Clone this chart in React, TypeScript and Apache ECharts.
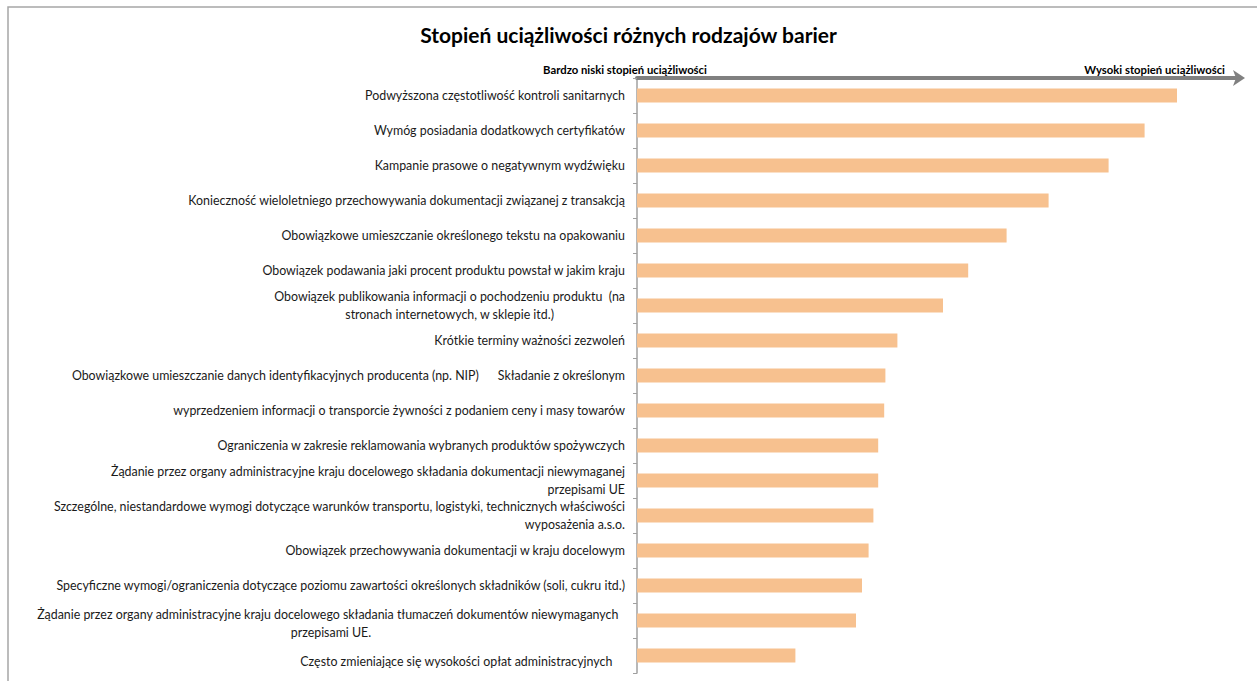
import React, { useEffect, useRef } from "react";
import * as echarts from "echarts";

const titleText = "Stopień uciążliwości różnych rodzajów barier";
const lowLabel = "Bardzo niski stopień uciążliwości";
const highLabel = "Wysoki stopień uciążliwości";

const categories: string[] = [
  "Podwyższona częstotliwość kontroli sanitarnych",
  "Wymóg posiadania dodatkowych certyfikatów",
  "Kampanie prasowe o negatywnym wydźwięku",
  "Konieczność wieloletniego przechowywania dokumentacji związanej z transakcją",
  "Obowiązkowe umieszczanie określonego tekstu na opakowaniu",
  "Obowiązek podawania jaki procent produktu powstał w jakim kraju",
  "Obowiązek publikowania informacji o pochodzeniu produktu  (na\nstronach internetowych, w sklepie itd.)",
  "Krótkie terminy ważności zezwoleń",
  "Obowiązkowe umieszczanie danych identyfikacyjnych producenta (np. NIP)      Składanie z określonym",
  "wyprzedzeniem informacji o transporcie żywności z podaniem ceny i masy towarów",
  "Ograniczenia w zakresie reklamowania wybranych produktów spożywczych",
  "Żądanie przez organy administracyjne kraju docelowego składania dokumentacji niewymaganej\nprzepisami UE",
  "Szczególne, niestandardowe wymogi dotyczące warunków transportu, logistyki, technicznych właściwości\nwyposażenia a.s.o.",
  "Obowiązek przechowywania dokumentacji w kraju docelowym",
  "Specyficzne wymogi/ograniczenia dotyczące poziomu zawartości określonych składników (soli, cukru itd.)",
  "Żądanie przez organy administracyjne kraju docelowego składania tłumaczeń dokumentów niewymaganych  \nprzepisami UE.",
  "Często zmieniające się wysokości opłat administracyjnych    ",
];

const values: number[] = [
  4.5, 4.23, 3.93, 3.43, 3.08, 2.76, 2.55, 2.17, 2.07, 2.06, 2.01, 2.01, 1.97,
  1.93, 1.875, 1.825, 1.32,
];

// indices of labels whose lines are centred (Excel wrapping)
const centredLabels: number[] = [6, 15];
// indices of labels drawn a little lower than the band centre
const loweredLabels: number[] = [15, 16];

const FONT = "Lato, 'Open Sans', sans-serif";

export default function App() {
  const ref = useRef<HTMLDivElement>(null);

  useEffect(() => {
    document.body.style.margin = "0";
    if (!ref.current) return;
    const chart = echarts.init(ref.current, undefined, { renderer: "svg" });
    const labelStyle = {
      fontFamily: FONT,
      fontSize: 12.4,
      color: "#1a1a1a",
      lineHeight: 18,
    };
    chart.setOption({
      animation: false,
      backgroundColor: "#ffffff",
      title: {
        text: titleText,
        left: "center",
        top: 19,
        textStyle: {
          fontFamily: FONT,
          fontWeight: "bold",
          fontSize: 21,
          color: "#000000",
        },
      },
      grid: {
        left: 637,
        right: 20,
        top: 78,
        bottom: 8,
        outerBoundsMode: "none",
      },
      xAxis: {
        type: "value",
        position: "top",
        min: 0,
        max: 5,
        axisLine: {
          show: true,
          lineStyle: { color: "#808080", width: 4 },
          symbol: ["none", "arrow"],
          symbolSize: [12, 12],
          symbolOffset: [0, 8],
        },
        axisTick: { show: false },
        axisLabel: { show: false },
        splitLine: { show: false },
      },
      yAxis: {
        type: "category",
        inverse: true,
        data: categories,
        axisLine: { show: true, lineStyle: { color: "#a0a0a0", width: 1.5 } },
        axisTick: { show: true, length: 4, lineStyle: { color: "#a0a0a0" } },
        axisLabel: {
          margin: 12,
          formatter: (val: string, idx: number) => {
            const cls =
              (centredLabels.includes(idx) ? "c" : "r") +
              (loweredLabels.includes(idx) ? "L" : "");
            return val
              .split("\n")
              .map((l) => `{${cls}|${l}}`)
              .join("\n");
          },
          rich: {
            r: { ...labelStyle, align: "right" },
            c: { ...labelStyle, align: "center" },
            rL: { ...labelStyle, align: "right", padding: [12, 0, 0, 0] },
            cL: { ...labelStyle, align: "center", padding: [6, 0, 0, 0] },
          },
        },
        splitLine: { show: false },
      },
      series: [
        {
          type: "bar",
          data: values,
          barWidth: 14,
          itemStyle: { color: "#F7C18F" },
          label: { show: false },
        },
      ],
      graphic: [
        {
          type: "rect",
          shape: { x: 8, y: 7, width: 1300, height: 720 },
          style: { fill: "none", stroke: "#a6a6a6", lineWidth: 1.5 },
          silent: true,
        },
        {
          type: "text",
          x: 625,
          y: 69,
          style: {
            text: lowLabel,
            fontFamily: FONT,
            fontWeight: "bold",
            fontSize: 11.3,
            fill: "#000000",
            align: "center",
            verticalAlign: "middle",
          },
        },
        {
          type: "text",
          x: 1225,
          y: 69,
          style: {
            text: highLabel,
            fontFamily: FONT,
            fontWeight: "bold",
            fontSize: 11.3,
            fill: "#000000",
            align: "right",
            verticalAlign: "middle",
          },
        },
      ],
    });
    return () => chart.dispose();
  }, []);

  return <div ref={ref} style={{ width: 1257, height: 681 }} />;
}
